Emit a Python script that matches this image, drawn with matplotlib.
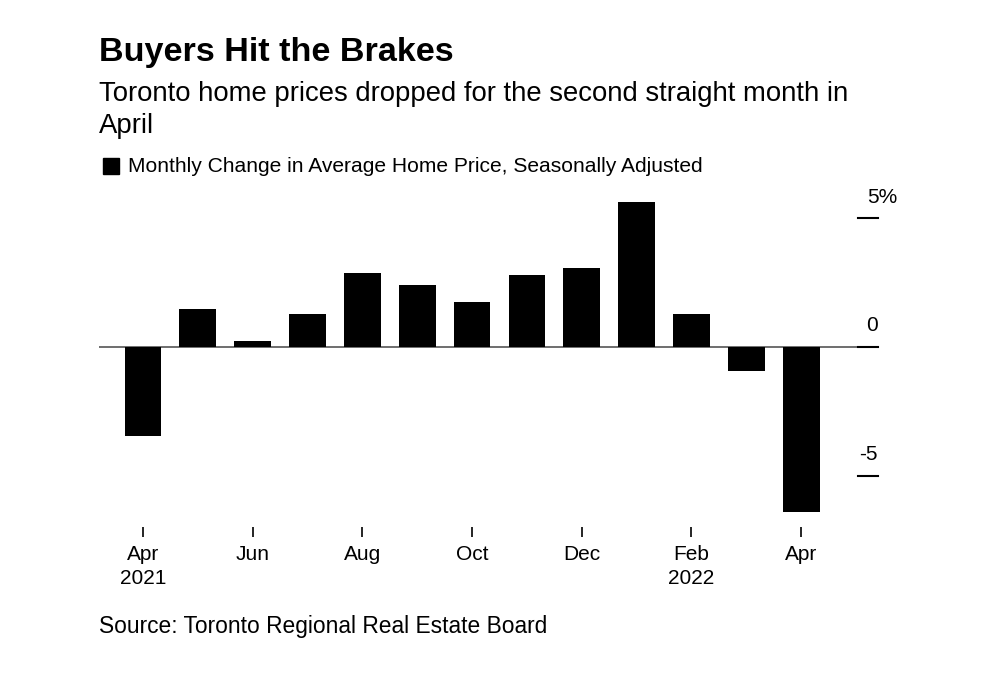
import matplotlib
matplotlib.use("Agg")
import matplotlib.pyplot as plt
import matplotlib.transforms as mtransforms
import numpy as np

months = ["Apr 2021", "May 2021", "Jun 2021", "Jul 2021", "Aug 2021", "Sep 2021",
          "Oct 2021", "Nov 2021", "Dec 2021", "Jan 2022", "Feb 2022", "Mar 2022", "Apr 2022"]
changes = [-3.45, 1.47, 0.23, 1.28, 2.87, 2.40, 1.74, 2.79, 3.06, 5.62, 1.28, -0.93, -6.40]
xtick_idx = [0, 2, 4, 6, 8, 10, 12]
xtick_labels = ["Apr\n2021", "Jun", "Aug", "Oct", "Dec", "Feb\n2022", "Apr"]
ytick_vals = [5, 0, -5]
ytick_labels = ["5%", "0", "-5"]

plt.rcParams['font.family'] = ['Liberation Sans', 'DejaVu Sans']

W, H = 1001, 683
fig = plt.figure(figsize=(W / 100, H / 100), dpi=100)
ax = fig.add_axes([99 / W, (H - 527) / H, 779 / W, (527 - 190) / H])

x = np.arange(len(changes))
ax.bar(x, changes, width=0.67, color="black", zorder=3)
ax.axhline(0, color="#555555", lw=1.2, zorder=2)
ax.set_xlim(-0.8, 13.4)
ax.set_ylim(-6.98, 6.09)

for s in ax.spines.values():
    s.set_visible(False)

ax.set_xticks(xtick_idx)
ax.set_xticklabels(xtick_labels, fontsize=15, linespacing=1.3)
ax.tick_params(axis="x", direction="out", length=7, width=1.2, pad=6, colors="black")

ax.set_yticks([])
trans = mtransforms.blended_transform_factory(ax.transAxes, ax.transData)
for v, lab in zip(ytick_vals, ytick_labels):
    ax.plot([0.974, 1.0], [v, v], color="black", lw=1.5, transform=trans, clip_on=False, zorder=4)
    if lab.endswith("%"):
        ax.text(1.0 - 11 / 779, v + 0.45, lab, transform=trans, ha="left", va="bottom", fontsize=15)
    else:
        ax.text(1.0, v + 0.45, lab, transform=trans, ha="right", va="bottom", fontsize=15)

fig.text(99 / W, 1 - 53 / H, "Buyers Hit the Brakes", fontsize=24.6, fontweight="bold", va="center")
fig.text(99 / W, 1 - 110 / H, "Toronto home prices dropped for the second straight month in\nApril",
         fontsize=19.8, va="center", linespacing=1.32)
fig.patches.append(plt.Rectangle((103 / W, 1 - 174 / H), 16 / W, 16 / H, transform=fig.transFigure,
                                 color="black"))
fig.text(128 / W, 1 - 167 / H, "Monthly Change in Average Home Price, Seasonally Adjusted",
         fontsize=15.1, va="center")
fig.text(99 / W, 1 - 626 / H, "Source: Toronto Regional Real Estate Board", fontsize=16.4, va="center")

fig.savefig("out.png", dpi=100)
